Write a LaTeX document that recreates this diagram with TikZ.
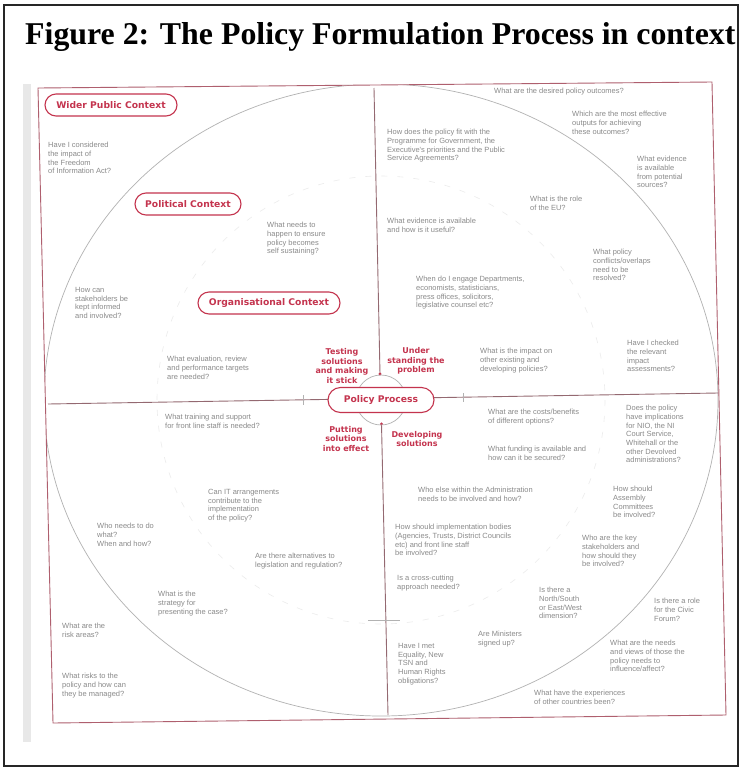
\documentclass[tikz,border=0pt]{standalone}
\usepackage{graphicx}
\usepackage{fontspec}
\setmainfont{Liberation Serif}
\newfontfamily\qfont{Liberation Sans}
\newfontfamily\lblfont{DejaVu Sans}
\definecolor{polred}{RGB}{196,52,78}
\definecolor{qgray}{RGB}{138,138,138}
\definecolor{framecol}{RGB}{175,95,110}
\tikzset{
  ctx/.style={draw=polred, line width=1.1pt, rounded corners=11pt, fill=white, text=polred,
    font=\lblfont\bfseries\fontsize{9.2}{11}\selectfont, minimum height=22pt, inner xsep=6pt},
  q/.style={anchor=north west, inner sep=0pt, align=left, text=qgray,
    font=\qfont\fontsize{7.5}{8.7}\selectfont},
  stage/.style={align=center, text=polred, font=\lblfont\bfseries\fontsize{8}{9.6}\selectfont, inner sep=0pt},
  framel/.style={draw=framecol, line width=0.9pt},
  axisl/.style={draw=gray!70!polred, line width=0.9pt},
  arcl/.style={draw=gray!60, line width=0.7pt},
  faintl/.style={draw=gray!15, line width=0.6pt, dash pattern=on 6pt off 10pt},
}
\begin{document}
\begin{tikzpicture}[x=1pt,y=-1pt]
\useasboundingbox (0,0) rectangle (742,772);
\fill[white] (0,0) rectangle (742,772);
\draw[black!85, line width=1.2pt] (4,5) rectangle (738,766);
% title
\node[anchor=base west, inner sep=0pt] (title) at (25,44)
  {\resizebox{710pt}{22pt}{\bfseries Figure 2: The Policy Formulation Process in context}};
% scan edge shadow
\fill[gray!18] (23,84) rectangle (31,742);
% frame corners
\coordinate (ftl) at (38,88);
\coordinate (ftr) at (712,82);
\coordinate (fbr) at (726,715);
\coordinate (fbl) at (53,723);
% circles clipped to frame
\begin{scope}
  \clip (ftl) -- (ftr) -- (fbr) -- (fbl) -- cycle;
  \draw[arcl] (381,400) ellipse [x radius=337, y radius=316];
  \draw[faintl] (381,400) circle (224);
\end{scope}
% axes
\coordinate (vtop) at (374,88);
\coordinate (vhub1) at (380,374);
\coordinate (vhub2) at (381.5,424);
\coordinate (vbot) at (388,715);
\coordinate (hl) at (48,404);
\coordinate (hr) at (718,393);
\draw[axisl] (vtop) -- (vhub1);
\draw[axisl] (vhub2) -- (vbot);
\draw[axisl] (hl) -- (hr);
\fill[polred] (vhub1) circle (1.6);
\fill[polred] (vhub2) circle (1.6);
% ticks
\draw[arcl] (303,395) -- (303,405);
\draw[arcl] (463,393) -- (463,402);
\draw[arcl] (368,620) -- (400,620);
% small hub circle
\draw[arcl] (381,400) circle (25);
% frame
\draw[framel] (ftl) -- (ftr) -- (fbr) -- (fbl) -- cycle;
% context boxes
\node[ctx, minimum width=132pt] (wider) at (111,105) {Wider Public Context};
\node[ctx, minimum width=106pt] (political) at (188,204) {Political Context};
\node[ctx, minimum width=142pt] (org) at (269,303) {Organisational Context};
\node[ctx, minimum width=106pt, minimum height=25pt, rounded corners=12.5pt] (policy) at (381,400) {Policy Process};
% stage labels
\node[stage] (testing) at (342,366) {Testing\\solutions\\and making\\it stick};
\node[stage] (under) at (416,361) {Under\\standing the\\problem};
\node[stage] (putting) at (346,439) {Putting\\solutions\\into effect};
\node[stage] (developing) at (417,439) {Developing\\solutions};
% questions: top-left
\node[q] (q1) at (48,142) {Have I considered\\the impact of\\the Freedom\\of Information Act?};
\node[q] (q2) at (267,222) {What needs to\\happen to ensure\\policy becomes\\self sustaining?};
\node[q] (q3) at (75,287) {How can\\stakeholders be\\kept informed\\and involved?};
\node[q] (q4) at (167,356) {What evaluation, review\\and performance targets\\are needed?};
% top-right
\node[q] (q5) at (494,88) {What are the desired policy outcomes?};
\node[q] (q6) at (572,111) {Which are the most effective\\outputs for achieving\\these outcomes?};
\node[q] (q7) at (387,129) {How does the policy fit with the\\Programme for Government, the\\Executive's priorities and the Public\\Service Agreements?};
\node[q] (q8) at (637,156) {What evidence\\is available\\from potential\\sources?};
\node[q] (q9) at (530,196) {What is the role\\of the EU?};
\node[q] (q10) at (387,218) {What evidence is available\\and how is it useful?};
\node[q] (q11) at (416,276) {When do I engage Departments,\\economists, statisticians,\\press offices, solicitors,\\legislative counsel etc?};
\node[q] (q12) at (593,249) {What policy\\conflicts/overlaps\\need to be\\resolved?};
\node[q] (q13) at (480,348) {What is the impact on\\other existing and\\developing policies?};
\node[q] (q14) at (627,340) {Have I checked\\the relevant\\impact\\assessments?};
% bottom-left
\node[q] (q15) at (165,414) {What training and support\\for front line staff is needed?};
\node[q] (q16) at (208,489) {Can IT arrangements\\contribute to the\\implementation\\of the policy?};
\node[q] (q17) at (97,523) {Who needs to do\\what?\\When and how?};
\node[q] (q18) at (255,553) {Are there alternatives to\\legislation and regulation?};
\node[q] (q19) at (158,591) {What is the\\strategy for\\presenting the case?};
\node[q] (q20) at (62,623) {What are the\\risk areas?};
\node[q] (q21) at (62,673) {What risks to the\\policy and how can\\they be managed?};
% bottom-right
\node[q] (q22) at (488,409) {What are the costs/benefits\\of different options?};
\node[q] (q23) at (626,405) {Does the policy\\have implications\\for NIO, the NI\\Court Service,\\Whitehall or the\\other Devolved\\administrations?};
\node[q] (q24) at (488,446) {What funding is available and\\how can it be secured?};
\node[q] (q25) at (418,487) {Who else within the Administration\\needs to be involved and how?};
\node[q] (q26) at (613,486) {How should\\Assembly\\Committees\\be involved?};
\node[q] (q27) at (395,524) {How should implementation bodies\\(Agencies, Trusts, District Councils\\etc) and front line staff\\be involved?};
\node[q] (q28) at (582,535) {Who are the key\\stakeholders and\\how should they\\be involved?};
\node[q] (q29) at (397,575) {Is a cross-cutting\\approach needed?};
\node[q] (q30) at (539,587) {Is there a\\North/South\\or East/West\\dimension?};
\node[q] (q31) at (654,598) {Is there a role\\for the Civic\\Forum?};
\node[q] (q32) at (478,631) {Are Ministers\\signed up?};
\node[q] (q33) at (398,643) {Have I met\\Equality, New\\TSN and\\Human Rights\\obligations?};
\node[q] (q34) at (610,640) {What are the needs\\and views of those the\\policy needs to\\influence/affect?};
\node[q] (q35) at (534,690) {What have the experiences\\of other countries been?};
\end{tikzpicture}
\end{document}
